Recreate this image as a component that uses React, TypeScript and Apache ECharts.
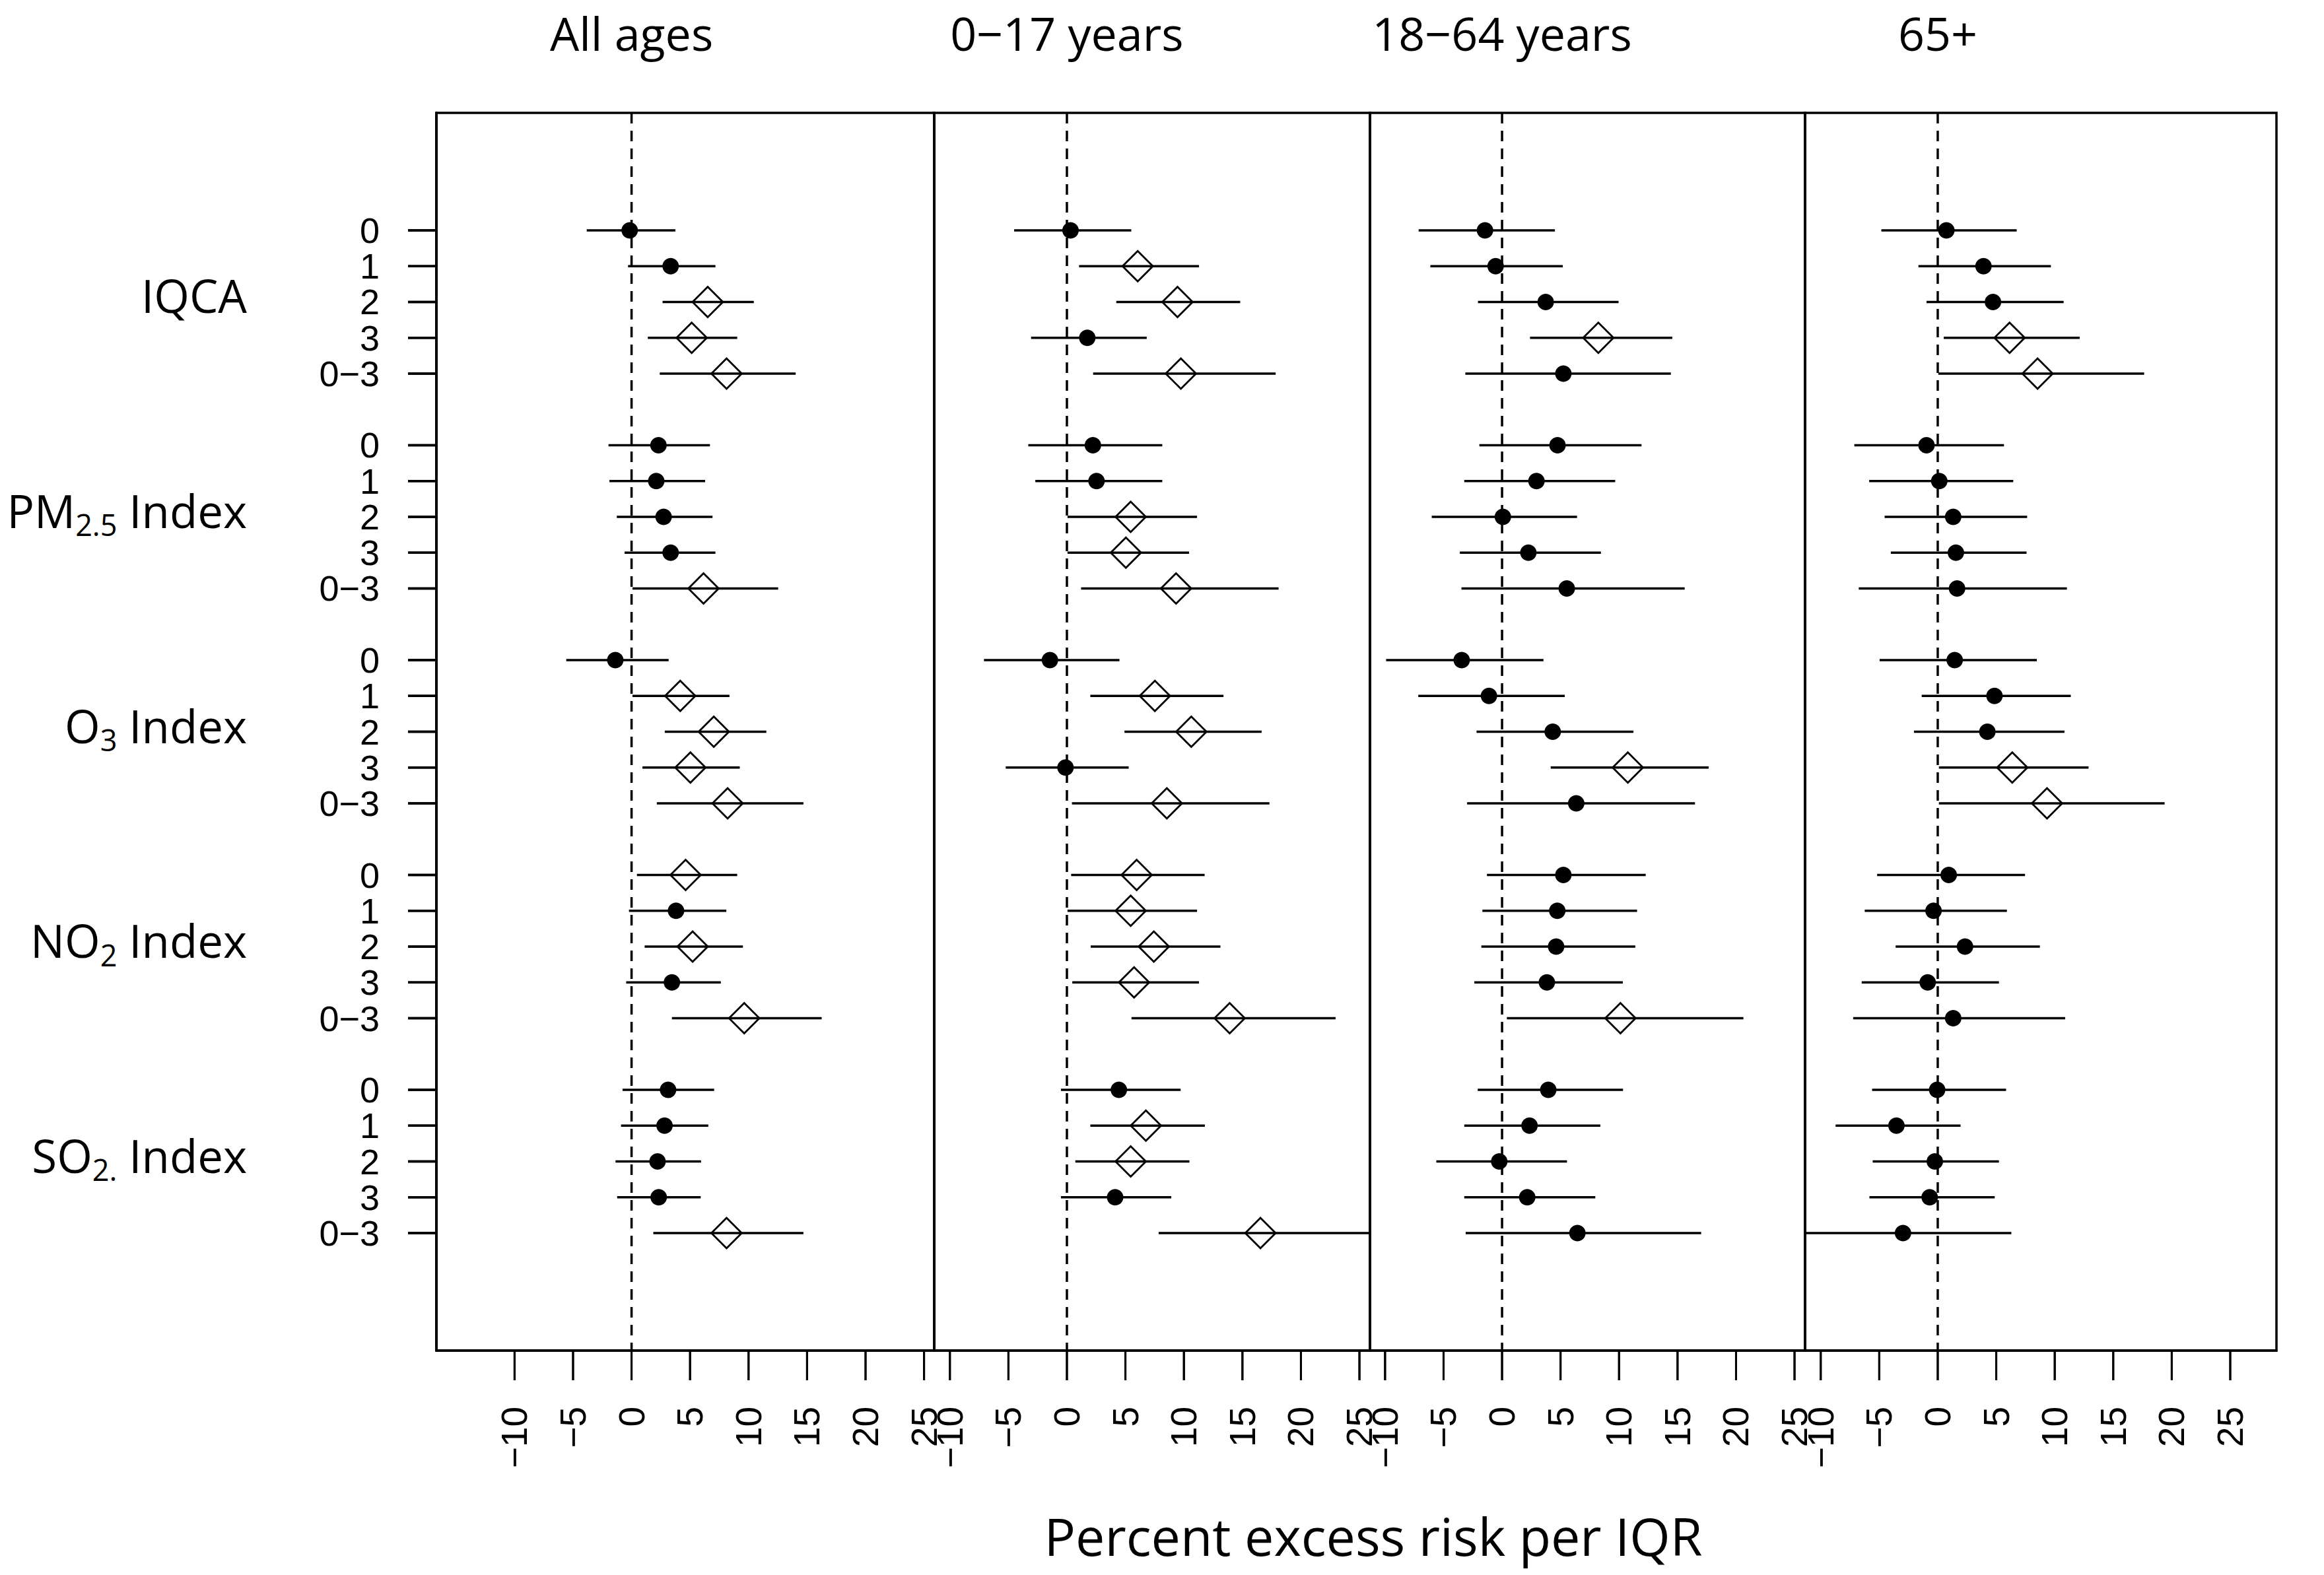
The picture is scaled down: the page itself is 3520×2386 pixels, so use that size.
import React, { useEffect, useRef } from "react";
import * as echarts from "echarts";

// ---------- data ----------
const LAGS = ["0", "1", "2", "3", "0\u22123"];
const POLLUTANTS = [
  [{ t: "IQCA" }],
  [{ t: "PM" }, { t: "2.5", sub: true }, { t: " Index" }],
  [{ t: "O" }, { t: "3", sub: true }, { t: " Index" }],
  [{ t: "NO" }, { t: "2", sub: true }, { t: " Index" }],
  [{ t: "SO" }, { t: "2.", sub: true }, { t: " Index" }],
];
const PANEL_TITLES = ["All ages", "0\u221217 years", "18\u221264 years", "65+"];
const X_TICKS = [-10, -5, 0, 5, 10, 15, 20, 25];
const X_TITLE = "Percent excess risk per IQR";

// order: IQCA(0,1,2,3,0-3), PM2.5, O3, NO2, SO2
const allAgesEst = [-0.16, 3.34, 6.51, 5.14, 8.12, 2.3, 2.11, 2.74, 3.34, 6.15, -1.39, 4.16, 7.03, 5.03, 8.21, 4.62, 3.8, 5.22, 3.45, 9.63, 3.12, 2.82, 2.22, 2.32, 8.12];
const allAgesLo = [-3.83, -0.3, 2.65, 1.39, 2.41, -1.97, -1.89, -1.26, -0.6, 0.08, -5.58, 0.08, 2.84, 0.93, 2.16, 0.46, -0.22, 1.12, -0.46, 3.45, -0.77, -0.9, -1.37, -1.23, 1.86];
const allAgesHi = [3.75, 7.17, 10.45, 9.03, 14.03, 6.7, 6.29, 6.92, 7.17, 12.53, 3.17, 8.37, 11.52, 9.25, 14.69, 9.03, 8.1, 9.52, 7.63, 16.25, 7.06, 6.56, 5.94, 5.91, 14.69];

const kidsEst = [0.31, 6.05, 9.45, 1.74, 9.74, 2.22, 2.53, 5.45, 5.04, 9.33, -1.45, 7.52, 10.63, -0.12, 8.54, 5.96, 5.45, 7.43, 5.74, 13.91, 4.44, 6.75, 5.45, 4.12, 16.54];
const kidsLo = [-4.51, 1.04, 4.22, -3.06, 2.24, -3.3, -2.7, 0.05, 0.05, 1.21, -7.09, 2.0, 4.92, -5.23, 0.43, 0.36, 0.05, 2.03, 0.46, 5.52, -0.51, 2.0, 0.72, -0.51, 7.84];
const kidsHi = [5.5, 11.29, 14.81, 6.82, 17.84, 8.15, 8.15, 11.12, 10.44, 18.09, 4.49, 13.38, 16.64, 5.28, 17.31, 11.77, 11.12, 13.12, 11.29, 22.96, 9.72, 11.79, 10.47, 8.92, 26.5];

const adultsEst = [-1.46, -0.55, 3.73, 8.23, 5.24, 4.74, 2.94, 0.07, 2.25, 5.53, -3.45, -1.12, 4.33, 10.75, 6.34, 5.24, 4.72, 4.62, 3.83, 10.12, 3.95, 2.35, -0.24, 2.15, 6.44];
const adultsLo = [-7.13, -6.13, -2.06, 2.39, -3.14, -1.94, -3.23, -6.01, -3.61, -3.47, -9.91, -7.16, -2.18, 4.16, -2.99, -1.29, -1.68, -1.77, -2.37, 0.41, -2.08, -3.23, -5.62, -3.23, -3.11];
const adultsHi = [4.52, 5.19, 9.96, 14.55, 14.43, 11.92, 9.67, 6.41, 8.45, 15.61, 3.54, 5.36, 11.23, 17.66, 16.49, 12.28, 11.54, 11.39, 10.32, 20.63, 10.34, 8.4, 5.55, 7.97, 17.02];

const elderEst = [0.74, 3.91, 4.72, 6.14, 8.53, -0.96, 0.13, 1.32, 1.55, 1.65, 1.45, 4.85, 4.24, 6.37, 9.34, 0.94, -0.36, 2.33, -0.86, 1.32, -0.05, -3.53, -0.25, -0.69, -2.97];
const elderLo = [-4.82, -1.65, -0.96, 0.51, 0.05, -7.13, -5.86, -4.54, -4.01, -6.75, -4.97, -1.37, -2.03, 0.1, 0.1, -5.18, -6.24, -3.6, -6.5, -7.23, -5.61, -8.73, -5.56, -5.84, -12.5];
const elderHi = [6.75, 9.67, 10.76, 12.13, 17.64, 5.66, 6.45, 7.64, 7.59, 11.04, 8.47, 11.37, 10.83, 12.89, 19.39, 7.46, 5.91, 8.73, 5.23, 10.89, 5.84, 1.95, 5.23, 4.87, 6.29];

const PANEL_DATA = [
  [allAgesEst, allAgesLo, allAgesHi],
  [kidsEst, kidsLo, kidsHi],
  [adultsEst, adultsLo, adultsHi],
  [elderEst, elderLo, elderHi],
];

// row positions: 5 groups of 5 rows with one blank row between groups
const ROW_POS: number[] = [];
for (let g = 0; g < 5; g++) for (let k = 0; k < 5; k++) ROW_POS.push(g * 6 + k);
// split into two label sets so that neighbouring labels never sit on the same axis
const ROW_POS_A = ROW_POS.filter((p) => (p % 6) % 2 === 0);
const ROW_POS_B = ROW_POS.filter((p) => (p % 6) % 2 === 1);

// ---------- layout ----------
const W = 3520;
const H = 2386;
const PLOT_TOP = 171;
const PLOT_BOTTOM = 2046;
const Y_MIN = -3.28;
const Y_MAX = 31.28;
const PANEL_LEFT = [661, 1415, 2075, 2734];
const PANEL_RIGHT = [1415, 2075, 2734, 3448];
const PANEL_XMIN = [-16.68, -11.34, -11.29, -11.34];
const PANEL_XMAX = [25.87, 25.9, 25.9, 28.95];
const GROUP_RIGHT = 374;
const MAIN_FONT = "Open Sans";
const TICK_FONT = "Liberation Sans";
const X_TICK_LEN = 45;
const Y_TICK_LEN = 43;

// same linear mapping as the value axes (used for tick marks / label placement)
const yPix = (v: number) => PLOT_TOP + ((v - Y_MIN) / (Y_MAX - Y_MIN)) * (PLOT_BOTTOM - PLOT_TOP);
const xPix = (i: number, v: number) =>
  PANEL_LEFT[i] + ((v - PANEL_XMIN[i]) / (PANEL_XMAX[i] - PANEL_XMIN[i])) * (PANEL_RIGHT[i] - PANEL_LEFT[i]);

function measure(text: string, font: string) {
  const c = document.createElement("canvas").getContext("2d");
  if (!c) return text.length * 30;
  c.font = font;
  return c.measureText(text).width;
}

const fmtNum = (v: number) => (v < 0 ? "\u2212" + Math.abs(v) : String(v));
const BLACK_LINE = { color: "#000", width: 3.5 };

function yAxisFor(gridIndex: number, labelValues: number[] | null) {
  return {
    type: "value",
    gridIndex,
    position: "left",
    inverse: true,
    min: Y_MIN,
    max: Y_MAX,
    axisLine: { show: true, onZero: false, lineStyle: BLACK_LINE },
    splitLine: { show: false },
    axisTick: { show: false },
    axisLabel: {
      show: !!labelValues,
      customValues: labelValues || [],
      margin: 86,
      fontSize: 54,
      fontFamily: TICK_FONT,
      color: "#000",
      formatter: (v: number) => LAGS[Math.round(v) % 6] ?? "",
    },
  };
}

// tick segments (pixel ends), derived from tick values through the panels' axis mapping
function tickSegments() {
  const segs: number[][] = [];
  PANEL_TITLES.forEach((_, i) => {
    X_TICKS.forEach((v) => {
      const x = xPix(i, v);
      segs.push([x, PLOT_BOTTOM, x, PLOT_BOTTOM + X_TICK_LEN, 3]);
    });
  });
  ROW_POS.forEach((p) => {
    const y = yPix(p);
    segs.push([PANEL_LEFT[0] - Y_TICK_LEN, y, PANEL_LEFT[0], y, 3.5]);
  });
  return segs;
}

function buildOption() {
  const grids: any[] = PANEL_TITLES.map((_, i) => ({
    left: PANEL_LEFT[i],
    top: PLOT_TOP,
    width: PANEL_RIGHT[i] - PANEL_LEFT[i],
    height: PLOT_BOTTOM - PLOT_TOP,
    show: true,
    borderColor: "#000",
    borderWidth: 3.5,
    backgroundColor: "transparent",
    containLabel: false,
    outerBoundsMode: "none",
  }));
  // full-canvas overlay grid (pixel units) used to draw the outside tick marks
  grids.push({ left: 0, top: 0, width: W, height: H, show: false, containLabel: false, outerBoundsMode: "none" });

  const xAxes: any[] = PANEL_TITLES.map((_, i) => ({
    type: "value",
    gridIndex: i,
    position: "bottom",
    min: PANEL_XMIN[i],
    max: PANEL_XMAX[i],
    axisLine: { show: true, onZero: false, lineStyle: BLACK_LINE },
    splitLine: { show: false },
    axisTick: { show: false },
    axisLabel: {
      show: true,
      customValues: X_TICKS,
      rotate: 90,
      margin: 85,
      fontSize: 55,
      fontFamily: TICK_FONT,
      color: "#000",
      formatter: (v: number) => fmtNum(v),
    },
  }));
  xAxes.push({ type: "value", gridIndex: 4, min: 0, max: W, show: false });

  const yAxes: any[] = PANEL_TITLES.map((_, i) => (i === 0 ? yAxisFor(0, ROW_POS_A) : yAxisFor(i, null)));
  // second label axis on the first panel (rows 1 and 3 of each group)
  yAxes.push(yAxisFor(0, ROW_POS_B));
  yAxes.push({ type: "value", gridIndex: 4, min: 0, max: H, inverse: true, show: false });

  const series: any[] = [];
  PANEL_TITLES.forEach((_, i) => {
    // dashed reference line at zero
    series.push({
      type: "line",
      xAxisIndex: i,
      yAxisIndex: i,
      data: [
        [0, Y_MIN],
        [0, Y_MAX],
      ],
      symbol: "none",
      silent: true,
      z: 1,
      lineStyle: { color: "#000", width: 3.5, type: [16, 11] },
    });
    // estimates with confidence intervals
    const [est, lo, hi] = PANEL_DATA[i];
    series.push({
      type: "custom",
      xAxisIndex: i,
      yAxisIndex: i,
      z: 3,
      silent: true,
      encode: { x: [0, 2, 3], y: 1 },
      data: ROW_POS.map((pos, j) => [est[j], pos, lo[j], hi[j]]),
      renderItem: (params: any, api: any) => {
        const e = api.value(0);
        const pos = api.value(1);
        const l = api.value(2);
        const h = api.value(3);
        const cs = params.coordSys;
        const clamp = (x: number) => Math.max(cs.x, Math.min(cs.x + cs.width, x));
        const pL = api.coord([l, pos]);
        const pH = api.coord([h, pos]);
        const pE = api.coord([e, pos]);
        const children: any[] = [
          {
            type: "line",
            shape: { x1: clamp(pL[0]), y1: pL[1], x2: clamp(pH[0]), y2: pH[1] },
            style: { stroke: "#000", lineWidth: 3.6 },
          },
        ];
        if (l > 0) {
          const r = 23;
          children.push({
            type: "polygon",
            shape: {
              points: [
                [pE[0], pE[1] - r],
                [pE[0] + r, pE[1]],
                [pE[0], pE[1] + r],
                [pE[0] - r, pE[1]],
              ],
            },
            style: { fill: "none", stroke: "#000", lineWidth: 2.8 },
          });
        } else {
          children.push({
            type: "circle",
            shape: { cx: pE[0], cy: pE[1], r: 12.5 },
            style: { fill: "#000", stroke: "none" },
          });
        }
        return { type: "group", children };
      },
    });
  });
  // outside tick marks drawn in the overlay grid
  series.push({
    type: "custom",
    xAxisIndex: 4,
    yAxisIndex: 5,
    silent: true,
    clip: false,
    z: 5,
    encode: { x: [0, 2], y: [1, 3] },
    data: tickSegments(),
    renderItem: (params: any, api: any) => {
      const a = api.coord([api.value(0), api.value(1)]);
      const b = api.coord([api.value(2), api.value(3)]);
      return {
        type: "line",
        shape: { x1: a[0], y1: a[1], x2: b[0], y2: b[1] },
        style: { stroke: "#000", lineWidth: api.value(4) },
      };
    },
  });

  // ---------- graphic elements ----------
  const graphics: any[] = [];
  tickSegments().forEach(([x1, y1, x2, y2, w]) => {
    graphics.push({
      type: "line",
      silent: true,
      z: 100,
      shape: { x1, y1, x2, y2 },
      style: { stroke: "#000", lineWidth: w },
    });
  });

  // panel titles centred on the zero line of each panel
  PANEL_TITLES.forEach((t, i) => {
    graphics.push({
      type: "text",
      style: {
        text: t,
        x: xPix(i, 0),
        y: 50,
        fill: "#000",
        font: `70px "${MAIN_FONT}"`,
        fontSize: 70,
        fontFamily: MAIN_FONT,
        textAlign: "center",
        align: "center",
        textVerticalAlign: "middle",
        verticalAlign: "middle",
      },
    });
  });
  // pollutant group labels
  const mainSize = 69;
  const subSize = 45;
  POLLUTANTS.forEach((parts, g) => {
    const yMid = yPix(g * 6 + 2) - 10;
    const widths = parts.map((p) =>
      measure(p.t, `${(p as any).sub ? subSize : mainSize}px "${MAIN_FONT}"`)
    );
    const total = widths.reduce((a, b) => a + b, 0);
    let x = GROUP_RIGHT - total;
    parts.forEach((p, k) => {
      const sub = (p as any).sub;
      const size = sub ? subSize : mainSize;
      graphics.push({
        type: "text",
        style: {
          text: p.t,
          x,
          y: sub ? yMid + 22 : yMid,
          fill: "#000",
          font: `${size}px "${MAIN_FONT}"`,
          fontSize: size,
          fontFamily: MAIN_FONT,
          textAlign: "left",
          align: "left",
          textVerticalAlign: "middle",
          verticalAlign: "middle",
        },
      });
      x += widths[k];
    });
  });
  // x title
  graphics.push({
    type: "text",
    style: {
      text: X_TITLE,
      x: 2080,
      y: 2326,
      fill: "#000",
      font: `79px "${MAIN_FONT}"`,
      fontSize: 79,
      fontFamily: MAIN_FONT,
      textAlign: "center",
      align: "center",
      textVerticalAlign: "middle",
      verticalAlign: "middle",
    },
  });

  return {
    animation: false,
    backgroundColor: "#fff",
    grid: grids,
    xAxis: xAxes,
    yAxis: yAxes,
    series,
    graphic: { elements: graphics },
  };
}

export default function App() {
  const ref = useRef<HTMLDivElement>(null);
  useEffect(() => {
    if (!ref.current) return;
    const chart = echarts.init(ref.current, undefined, { renderer: "svg", width: W, height: H });
    chart.setOption(buildOption() as any);
    return () => chart.dispose();
  }, []);
  return (
    <div
      ref={ref}
      style={{ position: "absolute", left: 0, top: 0, width: W, height: H, background: "#fff" }}
    />
  );
}
